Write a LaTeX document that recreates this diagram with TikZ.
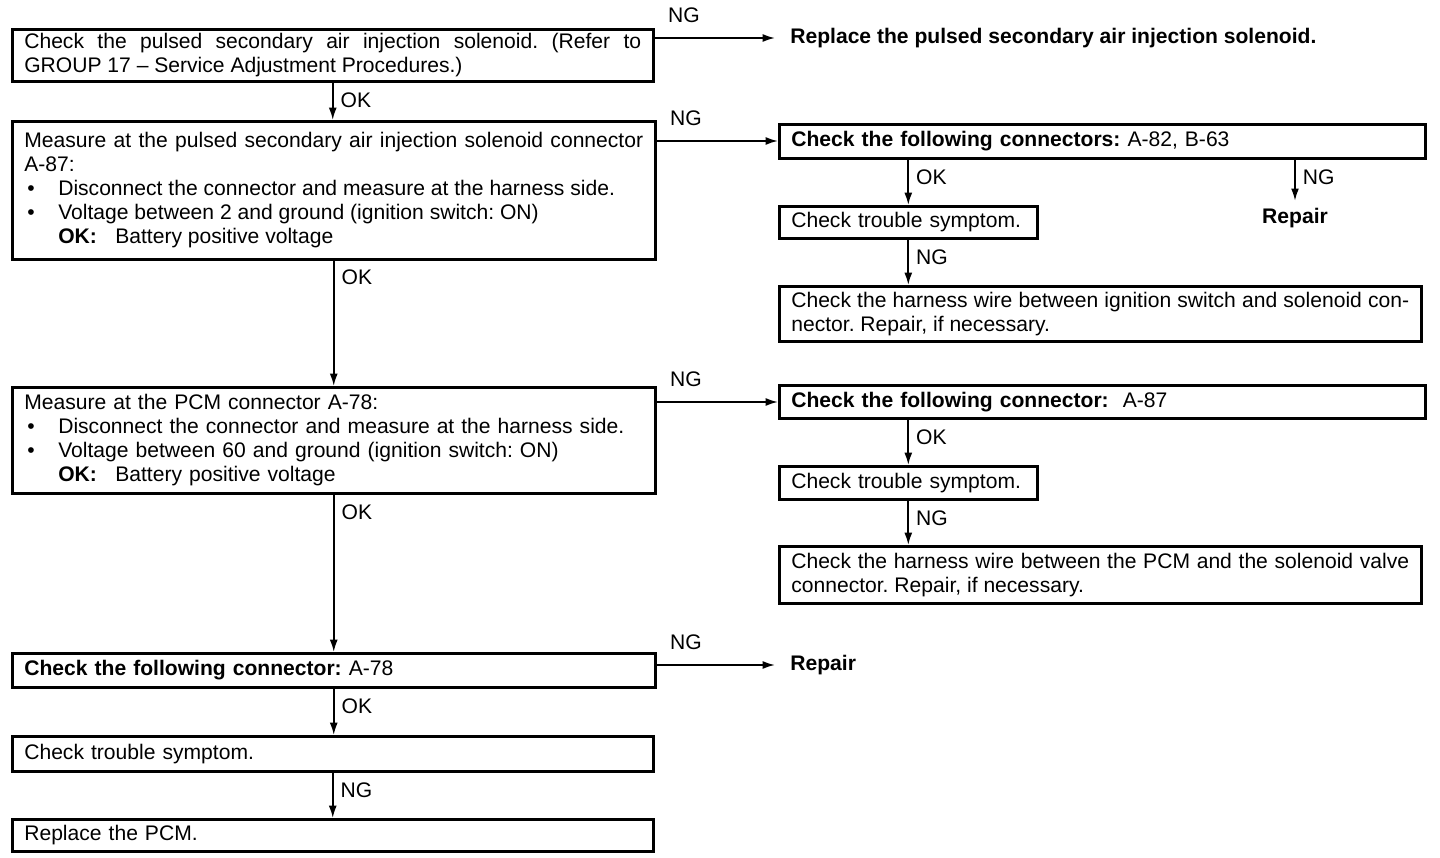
\documentclass[tikz,border=0pt]{standalone}
\usepackage{fontspec}
\setmainfont{Liberation Sans}
\usetikzlibrary{positioning,calc,arrows.meta}
\frenchspacing

\tikzset{
  chk/.style={draw, line width=1.5pt, anchor=north west, align=left,
    inner xsep=0.24cm, inner ysep=0pt, font=\fontsize{12}{13.6}\selectfont},
  conn/.style={line width=1pt, -{Latex[length=7pt,width=4.5pt]}},
  lbl/.style={font=\fontsize{12}{13}\selectfont, inner sep=1pt},
  nglbl/.style={lbl, pos=0, anchor=south west, xshift=0.22cm, yshift=0.26cm},
  oklbl/.style={lbl, pos=0, anchor=north west, xshift=3pt, yshift=-4pt},
  result/.style={font=\bfseries\fontsize{12}{13}\selectfont, inner xsep=0.3cm, inner ysep=1pt},
}
\newcommand{\bul}{\hspace*{0.06cm}\makebox[0.62cm][l]{\textbullet}}
\newcommand{\okind}{\hspace*{0.68cm}\makebox[1.14cm][l]{\textbf{OK:}}}

\begin{document}
\begin{tikzpicture}[x=0.02cm, y=-0.02cm]
    \useasboundingbox (0,0) rectangle (1440,858);

    % left column
    \node[chk, align=justify, minimum width=12.82cm, minimum height=1.04cm, text width=12.34cm] (solchk) at (11,28)
        {Check the pulsed secondary air injection solenoid. (Refer to\linebreak GROUP 17 -- Service Adjustment Procedures.)};
    \node[chk, align=justify, minimum width=12.86cm, minimum height=2.76cm, text width=12.38cm] (solmeas) at (11,120)
        {Measure at the pulsed secondary air injection solenoid connector\linebreak A-87:\\
         \bul Disconnect the connector and measure at the harness side.\\
         \bul Voltage between 2 and ground (ignition switch: ON)\\
         \okind Battery positive voltage};
    \node[chk, minimum width=12.86cm, minimum height=2.12cm, text width=12.38cm] (pcmmeas) at (11,386)
        {Measure at the PCM connector A-78:\\
         \bul Disconnect the connector and measure at the harness side.\\
         \bul Voltage between 60 and ground (ignition switch: ON)\\
         \okind Battery positive voltage};
    \node[chk, minimum width=12.86cm, minimum height=0.68cm, text width=12.38cm] (pcmconn) at (11,652)
        {\textbf{Check the following connector:} A-78};
    \node[chk, minimum width=12.82cm, minimum height=0.7cm, text width=12.34cm] (pcmtrbl) at (11,735)
        {Check trouble symptom.};
    \node[chk, minimum width=12.82cm, minimum height=0.64cm, text width=12.34cm] (pcmrepl) at (11,818)
        {Replace the PCM.};

    % right column
    \node[result, anchor=west] (solrepl) at (775,38) {Replace the pulsed secondary air injection solenoid.};
    \node[chk, minimum width=12.92cm, minimum height=0.68cm, text width=12.44cm] (conchk) at (778,123)
        {\textbf{Check the following connectors:} A-82, B-63};
    \node[chk, minimum width=5.16cm, minimum height=0.64cm, text width=4.68cm] (trbl1) at (778,205)
        {Check trouble symptom.};
    \node[result, inner ysep=0.14cm] (rep2) at (1295,218) {Repair};
    \node[chk, align=justify, minimum width=12.84cm, minimum height=1.1cm, text width=12.36cm] (harn1) at (778,285)
        {Check the harness wire between ignition switch and solenoid con-\linebreak nector. Repair, if necessary.};
    \node[chk, minimum width=12.92cm, minimum height=0.66cm, text width=12.44cm] (conchk2) at (778,384)
        {\textbf{Check the following connector:}\ \ A-87};
    \node[chk, minimum width=5.16cm, minimum height=0.66cm, text width=4.68cm] (trbl2) at (778,465)
        {Check trouble symptom.};
    \node[chk, align=justify, minimum width=12.84cm, minimum height=1.14cm, text width=12.36cm] (harn2) at (778,545)
        {Check the harness wire between the PCM and the solenoid valve\linebreak connector. Repair, if necessary.};
    \node[result, anchor=west] (rep3) at (775,665) {Repair};

    % connectors
    \draw[conn] ([yshift=-0.2cm]solchk.north east) coordinate (ng1) -- node[nglbl] {NG} (ng1 -| solrepl.west);
    \draw[conn] (solchk.south) -- node[oklbl] {OK} (solchk.south |- solmeas.north);
    \draw[conn] ([yshift=-0.42cm]solmeas.north east) coordinate (ng2) -- node[nglbl] {NG} (ng2 -| conchk.west);
    \draw[conn] (conchk.south -| trbl1.north) -- node[oklbl] {OK} (trbl1.north);
    \draw[conn] (conchk.south -| rep2.north) -- node[oklbl] {NG} (rep2.north);
    \draw[conn] (trbl1.south) -- node[oklbl] {NG} (trbl1.south |- harn1.north);
    \draw[conn] (solmeas.south) -- node[oklbl] {OK} (solmeas.south |- pcmmeas.north);
    \draw[conn] ([yshift=-0.32cm]pcmmeas.north east) coordinate (ng3) -- node[nglbl] {NG} (ng3 -| conchk2.west);
    \draw[conn] (conchk2.south -| trbl2.north) -- node[oklbl] {OK} (trbl2.north);
    \draw[conn] (trbl2.south) -- node[oklbl] {NG} (trbl2.south |- harn2.north);
    \draw[conn] (pcmmeas.south) -- node[oklbl] {OK} (pcmmeas.south |- pcmconn.north);
    \draw[conn] ([yshift=-0.26cm]pcmconn.north east) coordinate (ng4) -- node[nglbl] {NG} (ng4 -| rep3.west);
    \draw[conn] (pcmconn.south) -- node[oklbl] {OK} (pcmconn.south |- pcmtrbl.north);
    \draw[conn] (pcmtrbl.south) -- node[oklbl] {NG} (pcmtrbl.south |- pcmrepl.north);
\end{tikzpicture}
\end{document}
